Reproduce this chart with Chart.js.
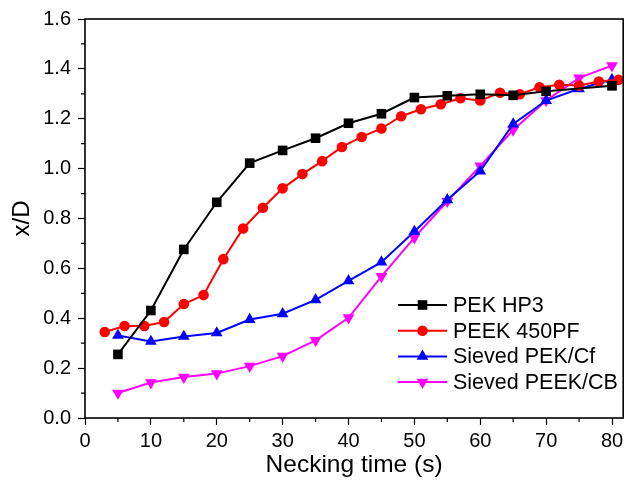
<!DOCTYPE html>
<html>
<head>
<meta charset="utf-8">
<script src="https://cdn.jsdelivr.net/npm/chart.js@4.4.0/dist/chart.umd.min.js"></script>
<style>
  html, body { margin: 0; padding: 0; background: #fff; }
  #wrap { width: 630px; height: 482px; }
</style>
</head>
<body>
<div id="wrap"><canvas id="necking"></canvas></div>
<script>
// necking data
const timeHP3 = [5, 10, 15, 20, 25, 30, 35, 40, 45, 50, 55, 60, 65, 70, 80];
const hp3 = [0.255, 0.431, 0.676, 0.865, 1.022, 1.073, 1.122, 1.182, 1.220, 1.285, 1.292, 1.298, 1.294, 1.310, 1.332];

const time450 = [3, 6, 9, 12, 15, 18, 21, 24, 27, 30, 33, 36, 39, 42, 45, 48, 51, 54, 57, 60, 63, 66, 69, 72, 75, 78, 81];
const peek450 = [0.345, 0.369, 0.369, 0.385, 0.457, 0.493, 0.637, 0.760, 0.843, 0.921, 0.978, 1.030, 1.087, 1.127, 1.161,
  1.210, 1.238, 1.258, 1.282, 1.273, 1.304, 1.298, 1.326, 1.336, 1.333, 1.349, 1.356];

const timeSieved = [5, 10, 15, 20, 25, 30, 35, 40, 45, 50, 55, 60, 65, 70, 75, 80];
const pekCf = [0.331, 0.307, 0.327, 0.341, 0.395, 0.418, 0.474, 0.550, 0.625, 0.748, 0.875, 0.990, 1.179, 1.273, 1.320, 1.357];
const peekCB = [0.100, 0.142, 0.164, 0.178, 0.208, 0.248, 0.311, 0.402, 0.568, 0.723, 0.869, 1.011, 1.155, 1.273, 1.364, 1.413];

const xTicks = [0, 10, 20, 30, 40, 50, 60, 70, 80];
const yTicks = [0.0, 0.2, 0.4, 0.6, 0.8, 1.0, 1.2, 1.4, 1.6];

const FONT = 'Arial, "Liberation Sans", sans-serif';

function pairs(xs, ys) {
  return xs.map((x, i) => ({ x: x, y: ys[i] }));
}

function series(label, xs, ys, color, style, radius, rot) {
  return {
    label: label,
    data: pairs(xs, ys),
    borderColor: color,
    backgroundColor: color,
    borderWidth: 2,
    pointStyle: style,
    pointRadius: radius,
    pointHoverRadius: radius,
    pointBorderWidth: 0,
    pointRotation: rot || 0,
    tension: 0,
    clip: false
  };
}

// frame + minor ticks
const framePlugin = {
  id: 'frame',
  afterDraw(chart) {
    const ctx = chart.ctx;
    const a = chart.chartArea;
    const xs = chart.scales.x, ys = chart.scales.y;
    ctx.save();
    ctx.strokeStyle = '#000';
    ctx.lineWidth = 1.6;
    ctx.strokeRect(a.left, a.top, a.right - a.left, a.bottom - a.top);
    ctx.lineWidth = 1.2;
    ctx.beginPath();
    for (let i = 0; i < xTicks.length; i++) {
      const v = xTicks[i] + 5;
      if (v > xs.max) break;
      const px = xs.getPixelForValue(v);
      ctx.moveTo(px, a.bottom);
      ctx.lineTo(px, a.bottom + 4);
    }
    for (let i = 0; i < yTicks.length - 1; i++) {
      const py = ys.getPixelForValue(yTicks[i] + 0.1);
      ctx.moveTo(a.left, py);
      ctx.lineTo(a.left - 4, py);
    }
    ctx.stroke();
    ctx.restore();
  }
};

// legend inside the plot, lines with markers
const legendPlugin = {
  id: 'innerLegend',
  afterDraw(chart) {
    const ctx = chart.ctx;
    const x0 = 398, x1 = 447, tx = 453;
    let y = 305;
    ctx.save();
    ctx.font = '21.5px ' + FONT;
    ctx.textBaseline = 'middle';
    chart.data.datasets.forEach(ds => {
      ctx.strokeStyle = ds.borderColor;
      ctx.lineWidth = 2;
      ctx.beginPath();
      ctx.moveTo(x0, y);
      ctx.lineTo(x1, y);
      ctx.stroke();
      ctx.fillStyle = ds.backgroundColor;
      Chart.helpers.drawPoint(ctx, {
        pointStyle: ds.pointStyle,
        radius: ds.pointRadius,
        rotation: ds.pointRotation,
        borderWidth: 0
      }, (x0 + x1) / 2, y);
      ctx.fillStyle = '#000';
      ctx.fillText(ds.label, tx, y + 1);
      y += 25.7;
    });
    ctx.restore();
  }
};

const ctx = document.getElementById('necking');

new Chart(ctx, {
  type: 'line',
  data: {
    datasets: [
      series('PEK HP3', timeHP3, hp3, '#000000', 'rect', 6.8),
      series('PEEK 450PF', time450, peek450, '#ff0000', 'circle', 5.3),
      series('Sieved PEK/Cf', timeSieved, pekCf, '#0000ff', 'triangle', 6.8),
      series('Sieved PEEK/CB', timeSieved, peekCB, '#ff00ff', 'triangle', 6.8, 180)
    ]
  },
  options: {
    responsive: true,
    maintainAspectRatio: false,
    animation: false,
    layout: { padding: { top: 18, right: 1, left: 0, bottom: 0 } },
    plugins: {
      legend: { display: false },
      tooltip: { enabled: false }
    },
    scales: {
      x: {
        type: 'linear',
        min: 0,
        max: 81.7,
        afterFit(scale) { scale.height = 64; },
        afterBuildTicks(scale) { scale.ticks = xTicks.map(v => ({ value: v })); },
        border: { display: false },
        grid: { display: true, drawOnChartArea: false, drawTicks: true, tickLength: 7, tickWidth: 1.2, tickColor: '#000' },
        ticks: {
          color: '#000',
          font: { family: FONT, size: 20 },
          padding: 4,
          maxRotation: 0,
          callback: v => String(v)
        },
        title: {
          display: true,
          text: 'Necking time (s)',
          color: '#000',
          font: { family: FONT, size: 24.5 },
          padding: { bottom: 2, top: 0 }
        }
      },
      y: {
        type: 'linear',
        min: 0,
        max: 1.6,
        afterFit(scale) { scale.width = 85; },
        afterBuildTicks(scale) { scale.ticks = yTicks.map(v => ({ value: v })); },
        border: { display: false },
        grid: { display: true, drawOnChartArea: false, drawTicks: true, tickLength: 7, tickWidth: 1.2, tickColor: '#000' },
        ticks: {
          color: '#000',
          font: { family: FONT, size: 20 },
          padding: 7,
          callback: v => Number(v).toFixed(1)
        },
        title: {
          display: true,
          text: 'x/D',
          color: '#000',
          font: { family: FONT, size: 24 },
          padding: { top: 8, bottom: 0 }
        }
      }
    }
  },
  plugins: [framePlugin, legendPlugin]
});
</script>
</body>
</html>
